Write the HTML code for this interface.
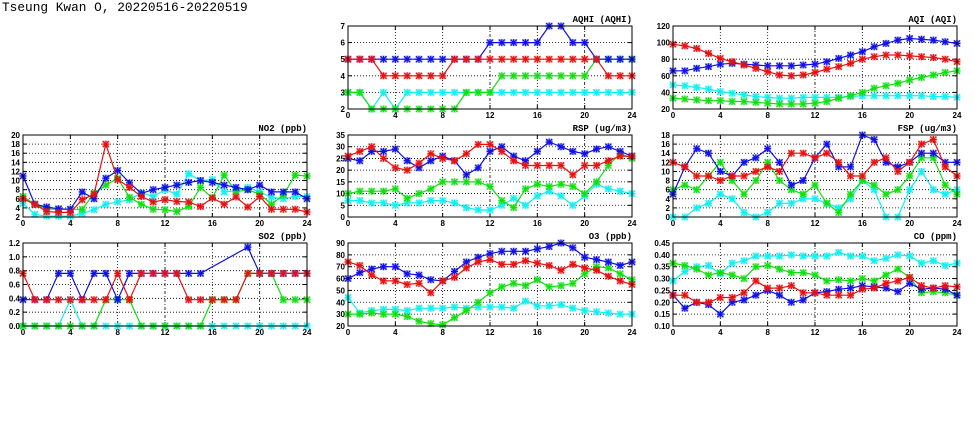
<!DOCTYPE html>
<html><head><meta charset="utf-8"><style>
html,body{margin:0;padding:0;background:#fff;}
svg{display:block;}
</style></head><body>
<svg id="chart" width="975" height="447" viewBox="0 0 975 447" xmlns="http://www.w3.org/2000/svg">
<text x="2" y="11" font-family="Liberation Mono, monospace" font-size="12.8" fill="#000">Tseung Kwan O, 20220516-20220519</text>
</svg>
<script>
const hours = [0,1,2,3,4,5,6,7,8,9,10,11,12,13,14,15,16,17,18,19,20,21,22,23,24];
const xTicks = [0,4,8,12,16,20,24];
const seriesColors = ['#1010e8','#e81010','#10e010','#10f0f0'];
const drawOrder = [3,2,0,1];

const aqhiBlue  = [5,5,5,5,5,5,5,5,5,5,5,5,6,6,6,6,6,7,7,6,6,5,5,5,5];
const aqhiRed   = [5,5,5,4,4,4,4,4,4,5,5,5,5,5,5,5,5,5,5,5,5,5,4,4,4];
const aqhiGreen = [3,3,2,2,2,2,2,2,2,2,3,3,3,4,4,4,4,4,4,4,4,5,5,5,5];
const aqhiCyan  = [3,3,2,3,2,3,3,3,3,3,3,3,3,3,3,3,3,3,3,3,3,3,3,3,3];
const aqhiTicks = [2,3,4,5,6,7];

const aqiBlue  = [66,66,69,71,74,75,74,73,72,72,72,73,74,77,81,85,89,95,99,103,105,104,103,101,99];
const aqiRed   = [98,96,93,87,81,77,73,69,65,61,60,61,64,68,71,75,80,83,85,85,84,83,82,80,77];
const aqiGreen = [33,32,31,30,30,29,29,28,27,26,26,26,27,29,33,36,40,45,48,51,55,58,61,64,66];
const aqiCyan  = [49,48,46,44,41,39,37,35,34,33,33,34,34,34,34,35,36,36,36,36,36,36,35,35,34];
const aqiTicks = [20,40,60,80,100,120];

const no2Blue  = [11,4.8,4.2,3.8,3.7,7.5,6,10.5,12.2,9.5,7.2,8,8.5,9,9.6,10,9.6,9,8.5,8,9,7.5,7.5,7.5,6];
const no2Red   = [6,4.8,3.2,3,3,5.8,7,18,10.2,8.5,6.5,5.3,5.8,5.4,5.3,4.3,6.2,4.8,6.4,4.2,6.5,3.7,3.7,3.7,3.1];
const no2Green = [6.5,4.8,3.8,3.7,3.7,3.7,7.2,9,10.5,6.3,4.8,3.7,3.6,3.2,4.3,8.5,6.2,11.2,7.5,8,7,4.8,6.8,11.2,11];
const no2Cyan  = [5,2.6,2.2,2.2,2.2,2.8,3.6,4.8,5.3,5.8,7.3,6.5,8,7,11.5,10,10.2,7.5,7.8,8.5,7.5,6.3,6,6.5,6.5];
const no2Ticks = [2,4,6,8,10,12,14,16,18,20];

const rspBlue  = [25,24,28,28,29,24,21,24,26,24,18,21,28,30,26,24,28,32,30,28,27,29,30,28,26];
const rspRed   = [26,28,30,25,21,20,23,27,25,24,27,31,31,28,24,22,22,22,22,18,22,22,24,26,26];
const rspGreen = [10,11,11,11,12,8,10,12,15,15,15,15,13,7,4,12,14,13,14,13,10,15,22,27,25];
const rspCyan  = [7,7,6,6,5,6,6,7,7,6,4,3,3,5,8,5,9,11,9,5,9,14,12,11,10];
const rspTicks = [0,5,10,15,20,25,30,35];

const fspBlue  = [5,11,15,14,10,9,12,13,15,12,7,8,13,16,11,11,18,17,12,11,12,14,14,12,12];
const fspRed   = [12,11,9,9,8,9,9,10,11,10,14,14,13,14,12,9,9,12,13,10,12,16,17,11,9];
const fspGreen = [6,7,6,9,12,8,5,8,12,8,6,5,7,3,1,5,8,7,5,6,9,13,13,7,5];
const fspCyan  = [0,0,2,3,5,4,1,0,1,3,3,4,4,3,2,4,8,6,0,0,6,10,6,5,6];
const fspTicks = [0,2,4,6,8,10,12,14,16,18];

const so2Blue  = [.38,.38,.38,.76,.76,.38,.76,.76,.38,.76,.76,.76,.76,.76,.76,.76,null,null,null,1.14,.76,.76,.76,.76,.76];
const so2Red   = [.76,.38,.38,.38,.38,.38,.38,.38,.76,.38,.76,.76,.76,.76,.38,.38,.38,.38,.38,.76,.76,.76,.76,.76,.76];
const so2Green = [0,0,0,0,0,0,0,.38,.38,.38,0,0,0,0,0,0,.38,.38,.38,.76,.76,.76,.38,.38,.38];
const so2Cyan  = [0,0,0,0,.38,0,0,0,0,0,0,0,0,0,0,0,0,0,0,0,0,0,0,0,0];
const so2Ticks = [0,0.2,0.4,0.6,0.8,1.0,1.2];

const o3Blue  = [60,65,68,70,70,64,63,59,58,66,74,78,81,83,83,83,85,87,90,86,78,76,74,71,74];
const o3Red   = [74,71,63,58,58,55,56,48,58,61,69,74,76,72,72,75,73,71,67,72,69,67,62,58,55];
const o3Green = [30,30,31,30,30,28,24,22,21,27,33,40,48,53,56,54,59,53,54,56,64,70,69,64,59];
const o3Cyan  = [44,31,33,34,34,33,35,35,35,36,35,36,36,36,35,41,37,37,38,35,33,32,31,30,30];
const o3Ticks = [20,30,40,50,60,70,80,90];

const coBlue  = [.23,.175,.20,.19,.15,.20,.21,.23,.25,.23,.20,.21,.24,.245,.255,.26,.27,.265,.26,.245,.28,.255,.26,.255,.23];
const coRed   = [.23,.23,.20,.20,.22,.22,.24,.29,.26,.26,.27,.24,.24,.23,.23,.23,.255,.26,.28,.29,.305,.27,.26,.27,.265];
const coGreen = [.365,.355,.34,.315,.325,.315,.30,.35,.355,.34,.325,.325,.315,.29,.295,.29,.30,.29,.315,.34,.305,.24,.245,.24,.23];
const coCyan  = [.29,.33,.35,.355,.32,.365,.375,.395,.395,.395,.40,.395,.395,.395,.41,.395,.395,.375,.385,.40,.395,.365,.375,.355,.365];
const coTicks = [0.10,0.15,0.20,0.25,0.30,0.35,0.40,0.45];

const NS='http://www.w3.org/2000/svg';
const svg=document.getElementById('chart');
function mk(tag,attrs,parent){const e=document.createElementNS(NS,tag);for(const k in attrs)e.setAttribute(k,attrs[k]);(parent||svg).appendChild(e);return e;}

function panel(key,title,L,T,R,B,ticks,dec,series){
  const g=mk('g',{});
  
  
  const ymin=ticks[0],ymax=ticks[ticks.length-1];
  const xs=v=>L+(v-0)/24*(R-L);
  const ys=v=>B-(v-ymin)/(ymax-ymin)*(B-T);
  ticks.forEach((t,i)=>{
    const y=ys(t);
    if(i>0&&i<ticks.length-1){mk('line',{x1:L,x2:R,y1:y,y2:y,stroke:'#000','stroke-width':0.8,'stroke-dasharray':'1,2'},g);}
    mk('line',{x1:L,x2:L+4,y1:y,y2:y,stroke:'#000','stroke-width':1},g);
    mk('line',{x1:R-4,x2:R,y1:y,y2:y,stroke:'#000','stroke-width':1},g);
    const tx=mk('text',{x:L-3,y:y+3,'text-anchor':'end','font-family':'Liberation Sans, sans-serif','font-size':8,'font-weight':'bold',fill:'#000'},g);
    tx.textContent=t.toFixed(dec);
    
    
  });
  xTicks.forEach((t,i)=>{
    const x=xs(t);
    if(i>0&&i<xTicks.length-1){mk('line',{x1:x,x2:x,y1:T,y2:B,stroke:'#000','stroke-width':0.8,'stroke-dasharray':(t==12||t==20)?'3,2,1,2':'1,2'},g);}
    mk('line',{x1:x,x2:x,y1:B,y2:B-4,stroke:'#000','stroke-width':1},g);
    mk('line',{x1:x,x2:x,y1:T,y2:T+4,stroke:'#000','stroke-width':1},g);
    const tx=mk('text',{x:x,y:B+9,'text-anchor':'middle','font-family':'Liberation Sans, sans-serif','font-size':8,'font-weight':'bold',fill:'#000'},g);
    tx.textContent=t;
    
    
  });
  drawOrder.forEach(si=>{
    const vals=series[si];
    const c=seriesColors[si];
    const pts=[];vals.forEach((v,i)=>{if(v!==null)pts.push(xs(hours[i]).toFixed(1)+','+ys(v).toFixed(1));});
    const pl=mk('polyline',{points:pts.join(' '),fill:'none',stroke:c,'stroke-width':1.2},g);
    
    
    vals.forEach((v,i)=>{
      if(v===null)return;
      const x=xs(hours[i]),y=ys(v);
      const m=mk('g',{},g);
      
      
      mk('rect',{x:x-3.5,y:y-3.5,width:7,height:7,fill:c,'fill-opacity':0.3},m);
      mk('path',{d:`M${x-3},${y-3}L${x+3},${y+3}M${x-3},${y+3}L${x+3},${y-3}M${x},${y-3.5}L${x},${y+3.5}M${x-3.5},${y}L${x+3.5},${y}`,stroke:c,'stroke-width':1.2},m);
    });
  });
  mk('rect',{x:L,y:T,width:R-L,height:B-T,fill:'none',stroke:'#000','stroke-width':1},g);
  const tt=mk('text',{x:R,y:T-4,'text-anchor':'end','font-family':'Liberation Mono, monospace','font-size':9,'font-weight':'bold',fill:'#000'},g);
  tt.textContent=title;
  
  
}

panel('aqhi','AQHI (AQHI)',348,26,632,109,aqhiTicks,0,[aqhiBlue,aqhiRed,aqhiGreen,aqhiCyan]);
panel('aqi','AQI (AQI)',673,26,957,109,aqiTicks,0,[aqiBlue,aqiRed,aqiGreen,aqiCyan]);
panel('no2','NO2 (ppb)',23,135,307,217,no2Ticks,0,[no2Blue,no2Red,no2Green,no2Cyan]);
panel('rsp','RSP (ug/m3)',348,135,632,217,rspTicks,0,[rspBlue,rspRed,rspGreen,rspCyan]);
panel('fsp','FSP (ug/m3)',673,135,957,217,fspTicks,0,[fspBlue,fspRed,fspGreen,fspCyan]);
panel('so2','SO2 (ppb)',23,243,307,326,so2Ticks,1,[so2Blue,so2Red,so2Green,so2Cyan]);
panel('o3','O3 (ppb)',348,243,632,326,o3Ticks,0,[o3Blue,o3Red,o3Green,o3Cyan]);
panel('co','CO (ppm)',673,243,957,326,coTicks,2,[coBlue,coRed,coGreen,coCyan]);
</script>
</body></html>
